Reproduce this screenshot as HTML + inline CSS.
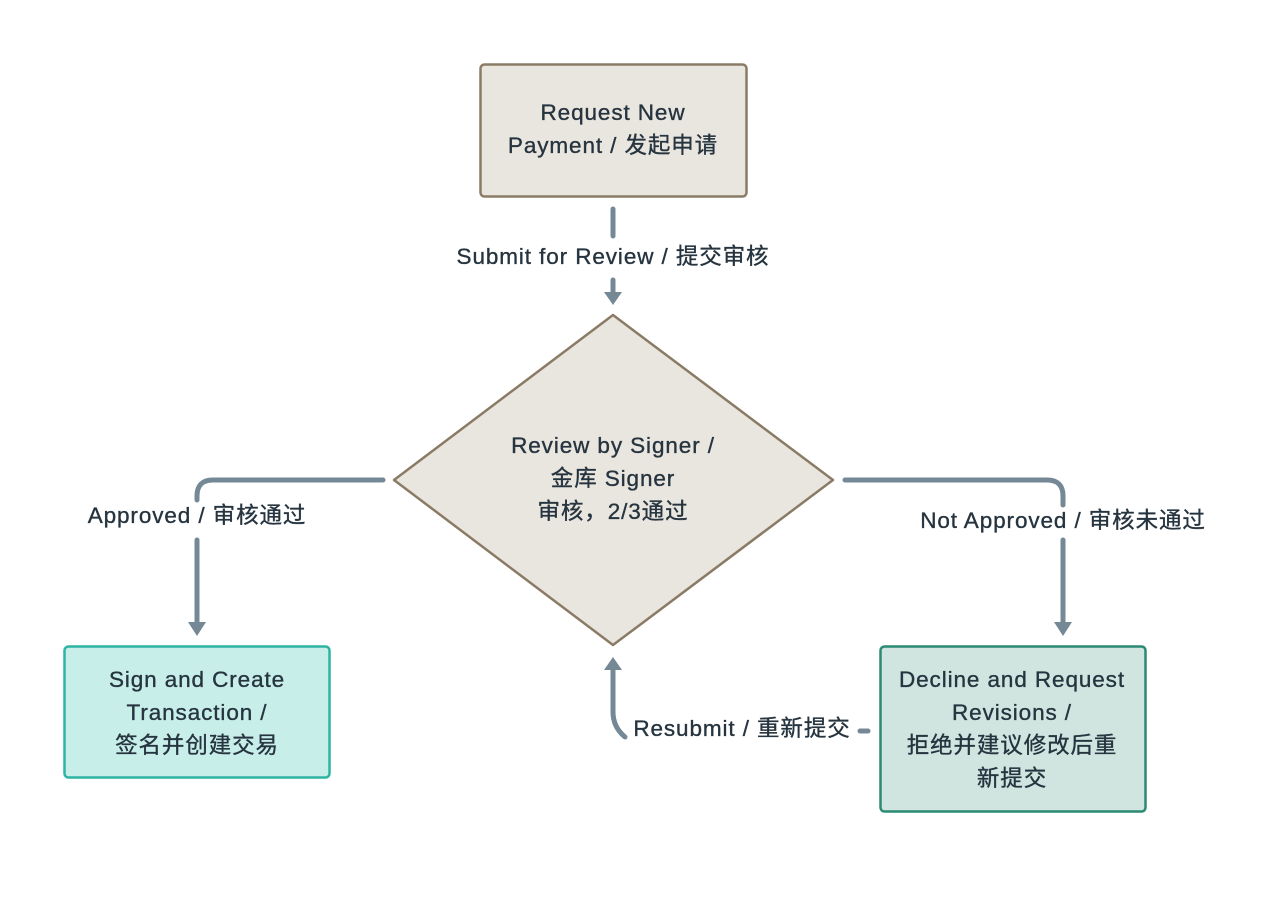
<!DOCTYPE html>
<html><head><meta charset="utf-8"><style>
html,body{margin:0;padding:0;background:#fff;}
svg text{font-family:"Liberation Sans","Noto Sans CJK SC",sans-serif;font-size:22.5px;letter-spacing:0.9px;fill:#26343f;stroke:#26343f;stroke-width:0.35px;text-anchor:middle;dominant-baseline:middle;}
</style></head><body>
<svg width="1280" height="894" viewBox="0 0 1280 894" xmlns="http://www.w3.org/2000/svg">
<rect width="1280" height="894" fill="#fff"/>
<g stroke="#758896" stroke-width="5" fill="none" stroke-linecap="round">
<line x1="613" y1="209" x2="613" y2="236"/>
<line x1="613" y1="280" x2="613" y2="294"/>
<path d="M383 480 H213 Q197 480 197 496 V500"/>
<line x1="197" y1="540" x2="197" y2="622"/>
<path d="M845 480 H1047 Q1063 480 1063 496 V505"/>
<line x1="1063" y1="540" x2="1063" y2="622"/>
<line x1="860" y1="731" x2="868" y2="731"/>
<path d="M625 737 Q613 727 613 712 V670"/>
</g>
<g fill="#758896">
<polygon points="604,292 622,292 613,305"/>
<polygon points="188,622 206,622 197,636"/>
<polygon points="1054,622 1072,622 1063,636"/>
<polygon points="604,670 622,670 613,657"/>
</g>
<rect x="480.5" y="64.5" width="266" height="132" rx="4" fill="#e9e5df" stroke="#8b7b66" stroke-width="2.5"/>
<text x="613" y="114">Request New</text>
<text x="613" y="147">Payment / 发起申请</text>
<text x="613" y="258">Submit for Review / 提交审核</text>
<polygon points="613,315 833,480 613,645 394,480" fill="#e9e5df" stroke="#8b7b66" stroke-width="2.5" stroke-linejoin="round"/>
<text x="613" y="447">Review by Signer /</text>
<text x="613" y="480">金库 Signer</text>
<text x="613" y="513">审核，2/3通过</text>
<text x="197" y="517">Approved / 审核通过</text>
<text x="1063" y="522">Not Approved / 审核未通过</text>
<rect x="64.5" y="646.5" width="265" height="131" rx="4" fill="#c8eeea" stroke="#2db4a3" stroke-width="2.5"/>
<text x="197" y="681">Sign and Create</text>
<text x="197" y="714">Transaction /</text>
<text x="197" y="747">签名并创建交易</text>
<rect x="880.5" y="646.5" width="265" height="165" rx="4" fill="#d0e4e0" stroke="#2a8a72" stroke-width="2.5"/>
<text x="1012" y="681">Decline and Request</text>
<text x="1012" y="714">Revisions /</text>
<text x="1012" y="747">拒绝并建议修改后重</text>
<text x="1012" y="780">新提交</text>
<text x="742" y="730">Resubmit / 重新提交</text>
</svg>
</body></html>
